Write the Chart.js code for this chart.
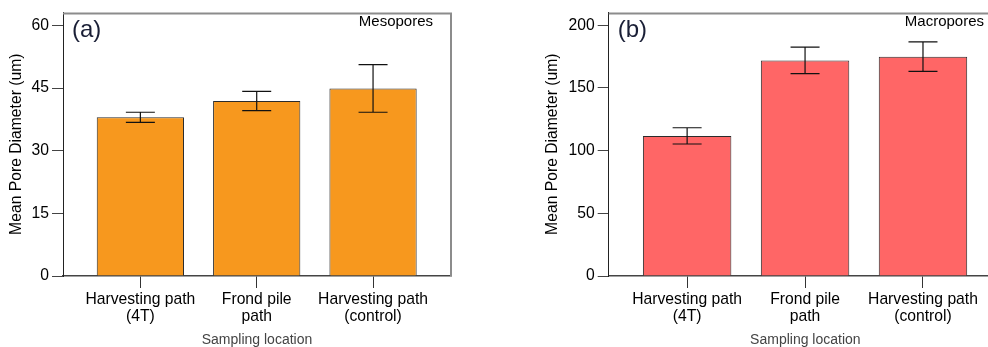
<!DOCTYPE html>
<html>
<head>
<meta charset="utf-8">
<script src="https://cdn.jsdelivr.net/npm/chart.js@4/dist/chart.umd.min.js"></script>
<style>
  html, body { margin: 0; padding: 0; background: #fff; overflow: hidden; }
  body { width: 988px; height: 347px; position: relative; }
  canvas { position: absolute; top: 0; }
  #chartA { left: 0; }
  #chartB { left: 536px; }
</style>
</head>
<body>
<canvas id="chartA" width="470" height="347"></canvas>
<canvas id="chartB" width="474" height="347"></canvas>
<script>
const categories = [
    ['Harvesting path', '(4T)'],
    ['Frond pile', 'path'],
    ['Harvesting path', '(control)']
];

// (a) mesopores
const mesoMeans = [38.0, 41.9, 44.9];
const mesoErrors = [1.2, 2.3, 5.7];
const mesoTicks = [0, 15, 30, 45, 60];

// (b) macropores
const macroMeans = [111.8, 172.0, 175.0];
const macroErrors = [6.5, 10.6, 11.8];
const macroTicks = [0, 50, 100, 150, 200];

const FONT = '"Liberation Sans", Arial, sans-serif';

/* error bars + frame + panel labels */
const panelDecor = {
    id: 'panelDecor',
    afterDatasetsDraw(chart, args, opts) {
        const c = chart.ctx;
        const area = chart.chartArea;
        const yScale = chart.scales.y;
        const bars = chart.getDatasetMeta(0).data;

        c.save();
        c.strokeStyle = '#111';
        c.lineWidth = 1.2;
        bars.forEach((bar, i) => {
            const hi = yScale.getPixelForValue(opts.means[i] + opts.errors[i]);
            const lo = yScale.getPixelForValue(opts.means[i] - opts.errors[i]);
            c.beginPath();
            c.moveTo(bar.x, hi); c.lineTo(bar.x, lo);
            c.moveTo(bar.x - 14.5, hi); c.lineTo(bar.x + 14.5, hi);
            c.moveTo(bar.x - 14.5, lo); c.lineTo(bar.x + 14.5, lo);
            c.stroke();
        });

        // top and right side of the frame
        c.strokeStyle = '#8c8c8c';
        c.lineWidth = 2;
        c.beginPath();
        c.moveTo(area.left, area.top + 1);
        c.lineTo(area.right, area.top + 1);
        c.lineTo(area.right, area.bottom);
        c.stroke();

        c.textBaseline = 'middle';
        c.fillStyle = '#1a1f36';
        c.font = '24px ' + FONT;
        c.textAlign = 'left';
        c.fillText(opts.tag, area.left + 9, area.top + 18);

        c.fillStyle = '#000';
        c.font = '15px ' + FONT;
        c.textAlign = 'right';
        c.fillText(opts.name, area.right - 18, area.top + 9.5);
        c.restore();
    }
};

function makeChart(id, means, errors, yTicks, yMax, fill, tag, name, yWidth, rightPad) {
    return new Chart(document.getElementById(id), {
        type: 'bar',
        data: {
            datasets: [{
                data: means.map((v, i) => ({x: i, y: v})),
                backgroundColor: fill,
                borderColor: '#2b2b2b',
                borderWidth: 1,
                barPercentage: 0.75,
                categoryPercentage: 1
            }]
        },
        options: {
            responsive: false,
            animation: false,
            events: [],
            layout: {padding: {top: 12, right: rightPad, bottom: 0, left: 0}},
            plugins: {
                legend: {display: false},
                tooltip: {enabled: false},
                panelDecor: {means: means, errors: errors, tag: tag, name: name}
            },
            scales: {
                x: {
                    type: 'linear',
                    min: -0.665,
                    max: 2.67,
                    offset: false,
                    grid: {offset: false, drawOnChartArea: false, tickLength: 12, color: '#333'},
                    border: {color: '#444', width: 1.5},
                    ticks: {
                        stepSize: 1,
                        includeBounds: false,
                        maxRotation: 0,
                        autoSkip: false,
                        padding: 3,
                        color: '#000',
                        font: {family: FONT, size: 15.7, lineHeight: 1.1},
                        callback: v => categories[v]
                    },
                    title: {
                        display: true,
                        text: 'Sampling location',
                        color: '#444',
                        font: {family: FONT, size: 14, lineHeight: 1},
                        padding: 0
                    },
                    afterFit: s => { s.height = 71; }
                },
                y: {
                    min: 0,
                    max: yMax,
                    grid: {drawOnChartArea: false, tickLength: 11, color: '#444'},
                    border: {color: '#222', width: 1},
                    afterBuildTicks: s => { s.ticks = yTicks.map(v => ({value: v})); },
                    ticks: {
                        padding: 3,
                        color: '#000',
                        font: {family: FONT, size: 15.7}
                    },
                    title: {
                        display: true,
                        text: 'Mean Pore Diameter (um)',
                        color: '#000',
                        font: {family: FONT, size: 15.7, lineHeight: 1.2},
                        padding: {top: 7.4, bottom: 0}
                    },
                    afterFit: s => { s.width = yWidth; }
                }
            }
        },
        plugins: [panelDecor]
    });
}

makeChart('chartA', mesoMeans, mesoErrors, mesoTicks, 63.1, '#f7981e', '(a)', 'Mesopores', 63, 19);
makeChart('chartB', macroMeans, macroErrors, macroTicks, 210.3, '#ff6666', '(b)', 'Macropores', 72.7, 8);
</script>
</body>
</html>
